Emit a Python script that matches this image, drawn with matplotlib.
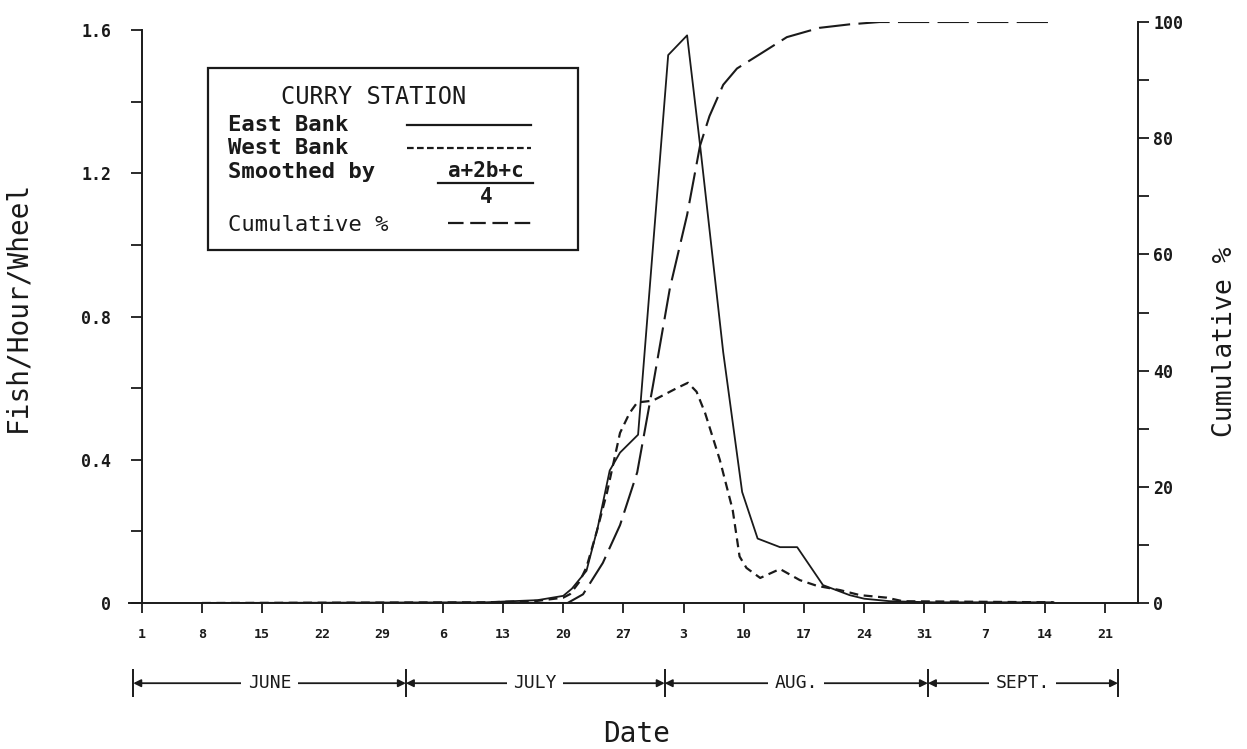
import matplotlib
matplotlib.use('Agg')
import matplotlib.pyplot as plt
from matplotlib.ticker import MultipleLocator, FixedLocator, FixedFormatter
from matplotlib.patches import Rectangle

plt.rcParams['font.family'] = ['DejaVu Sans Mono', 'DejaVu Sans']

# days counted from June 1 (= day 0)
east_days = [7, 40, 46, 49, 50, 51.7, 53, 54.4, 55.6, 57.7, 61.2, 63.4, 64.9, 67.6,
             69.8, 71.6, 74.2, 76.2, 79.2, 82.3, 84, 87, 92, 106]
east_vals = [0, 0.002, 0.008, 0.02, 0.04, 0.09, 0.21, 0.37, 0.42, 0.47, 1.53, 1.585, 1.28, 0.70,
             0.31, 0.18, 0.156, 0.156, 0.05, 0.022, 0.012, 0.005, 0.002, 0.002]

west_days = [7, 40, 46, 49, 49.8, 50.9, 51.7, 52.9, 54.1, 55.6, 56.7, 57.6, 59.4, 62.2, 63.5,
             64.5, 65.5, 67.2, 68.7, 69.5, 70.3, 71.9, 74.2, 76.5, 78.5, 81.2, 83.5, 86.6, 88.5, 106]
west_vals = [0, 0.002, 0.006, 0.015, 0.025, 0.06, 0.10, 0.2, 0.31, 0.475, 0.53, 0.56, 0.565, 0.60, 0.615,
             0.59, 0.53, 0.40, 0.26, 0.13, 0.098, 0.07, 0.095, 0.064, 0.048, 0.036, 0.022, 0.015, 0.005, 0.002]

cum_days = [7, 49.5, 51.3, 53.6, 55.6, 57.6, 59.4, 61.4, 63.4, 64.9, 66, 67.6, 69.2, 71.9,
            75, 78.8, 82.3, 85.8, 106]
cum_vals = [0, 0, 1.5, 6.9, 13.4, 22.5, 37.2, 54.2, 66.8, 78.7, 83.8, 89.2, 92, 94.5,
            97.4, 99, 99.6, 100, 100]

tick_days = [0, 7, 14, 21, 28, 35, 42, 49, 56, 63, 70, 77, 84, 91, 98, 105, 112]
tick_labels = ['1', '8', '15', '22', '29', '6', '13', '20', '27', '3', '10', '17', '24',
               '31', '7', '14', '21']
left_ticks = [0, 0.4, 0.8, 1.2, 1.6]
left_labels = ['0', '0.4', '0.8', '1.2', '1.6']
right_ticks = [0, 20, 40, 60, 80, 100]

month_names = ['JUNE', 'JULY', 'AUG.', 'SEPT.']
month_bounds = [-1, 30.7, 60.8, 91.4, 113.5]

ink = '#1a1a1a'

fig = plt.figure(figsize=(12.47, 7.49), dpi=100)
ax = fig.add_axes([0.1034, 0.1949, 0.809, 0.7757])
ax2 = ax.twinx()

ax.plot(east_days, east_vals, color=ink, lw=1.3)
ax.plot(west_days, west_vals, color=ink, lw=1.6, dashes=(4, 2.5))
ax2.plot(cum_days, cum_vals, color=ink, lw=1.5, dashes=(15, 4))

ax.set_xlim(-1.5, 115.8)
ax.set_ylim(0, 1.6223)
ax2.set_ylim(0, 100)

# spines
ax.spines['top'].set_visible(False)
ax.spines['right'].set_visible(False)
ax.spines['left'].set_position(('data', 0))
ax.spines['left'].set_bounds(0, 1.6)
for s in ['top', 'left', 'bottom']:
    ax2.spines[s].set_visible(False)
ax2.spines['right'].set_bounds(0, 100)
for sp in [ax.spines['left'], ax.spines['bottom'], ax2.spines['right']]:
    sp.set_linewidth(1.4)
    sp.set_color(ink)

# ticks
ax.xaxis.set_major_locator(FixedLocator(tick_days))
ax.xaxis.set_major_formatter(FixedFormatter(tick_labels))
ax.tick_params(axis='x', direction='out', length=7, width=1.3, pad=11,
               labelsize=9.5, colors=ink)
for t in ax.get_xticklabels():
    t.set_fontweight('bold')

ax.yaxis.set_major_locator(FixedLocator(left_ticks))
ax.yaxis.set_major_formatter(FixedFormatter(left_labels))
ax.yaxis.set_minor_locator(MultipleLocator(0.2))
ax.tick_params(axis='y', which='both', direction='out', length=8, width=1.3,
               pad=14, labelsize=12, colors=ink)
for t in ax.get_yticklabels():
    t.set_fontweight('bold')

ax2.yaxis.set_major_locator(FixedLocator(right_ticks))
ax2.yaxis.set_minor_locator(MultipleLocator(10))
ax2.tick_params(axis='y', which='both', direction='out', length=8, width=1.3,
                pad=3, labelsize=12, colors=ink)
for t in ax2.get_yticklabels():
    t.set_fontweight('bold')

# axis labels
ax.set_ylabel('Fish/Hour/Wheel', fontsize=20, color=ink)
ax.yaxis.set_label_coords(-0.097, 0.51)
ax2.set_ylabel('Cumulative %', fontsize=19, color=ink)
ax2.yaxis.set_label_coords(1.074, 0.45)
ax.text(57.5, -0.225, 'Date', transform=ax.get_xaxis_transform(), ha='center',
        va='center', fontsize=20, color=ink)

# month brackets under the date axis
trans = ax.get_xaxis_transform()
row_y = -0.138
ax.vlines(month_bounds, row_y - 0.024, row_y + 0.024, transform=trans,
          colors=ink, lw=1.4, clip_on=False)
for name, b0, b1 in zip(month_names, month_bounds[:-1], month_bounds[1:]):
    ax.annotate('', xy=(b1, row_y), xytext=(b0, row_y), xycoords=trans,
                textcoords=trans, annotation_clip=False,
                arrowprops=dict(arrowstyle='<|-|>', color=ink, lw=1.3,
                                mutation_scale=11, shrinkA=0, shrinkB=0))
    ax.text((b0 + b1) / 2, row_y, name, transform=trans, ha='center', va='center',
            fontsize=13, color=ink,
            bbox=dict(boxstyle='square,pad=0.35', fc='white', ec='none'))

# legend box drawn by hand
ax.add_patch(Rectangle((0.0783, 0.6076), 0.3667, 0.3132, transform=ax.transAxes,
                       fill=False, ec=ink, lw=1.6, zorder=5))
ax.text(0.243, 0.871, 'CURRY STATION', transform=ax.transAxes, ha='center',
        va='center', fontsize=17, color=ink)
ax.text(0.098, 0.823, 'East Bank', transform=ax.transAxes, va='center',
        fontsize=16, fontweight='bold', color=ink)
ax.plot([0.2755, 0.399], [0.823, 0.823], transform=ax.transAxes, color=ink, lw=1.6)
ax.text(0.098, 0.783, 'West Bank', transform=ax.transAxes, va='center',
        fontsize=16, fontweight='bold', color=ink)
ax.plot([0.2755, 0.399], [0.783, 0.783], transform=ax.transAxes, color=ink, lw=1.6,
        dashes=(3, 1.5))
ax.text(0.098, 0.742, 'Smoothed by', transform=ax.transAxes, va='center',
        fontsize=16, fontweight='bold', color=ink)
ax.text(0.354, 0.744, 'a+2b+c', transform=ax.transAxes, ha='center', va='center',
        fontsize=15, fontweight='bold', color=ink)
ax.plot([0.306, 0.401], [0.723, 0.723], transform=ax.transAxes, color=ink, lw=1.6)
ax.text(0.354, 0.699, '4', transform=ax.transAxes, ha='center', va='center',
        fontsize=15, fontweight='bold', color=ink)
ax.text(0.098, 0.651, 'Cumulative %', transform=ax.transAxes, va='center',
        fontsize=16, color=ink)
ax.plot([0.316, 0.40], [0.654, 0.654], transform=ax.transAxes, color=ink, lw=1.6,
        dashes=(7, 3))

fig.savefig('out.png', dpi=100, facecolor='white')
